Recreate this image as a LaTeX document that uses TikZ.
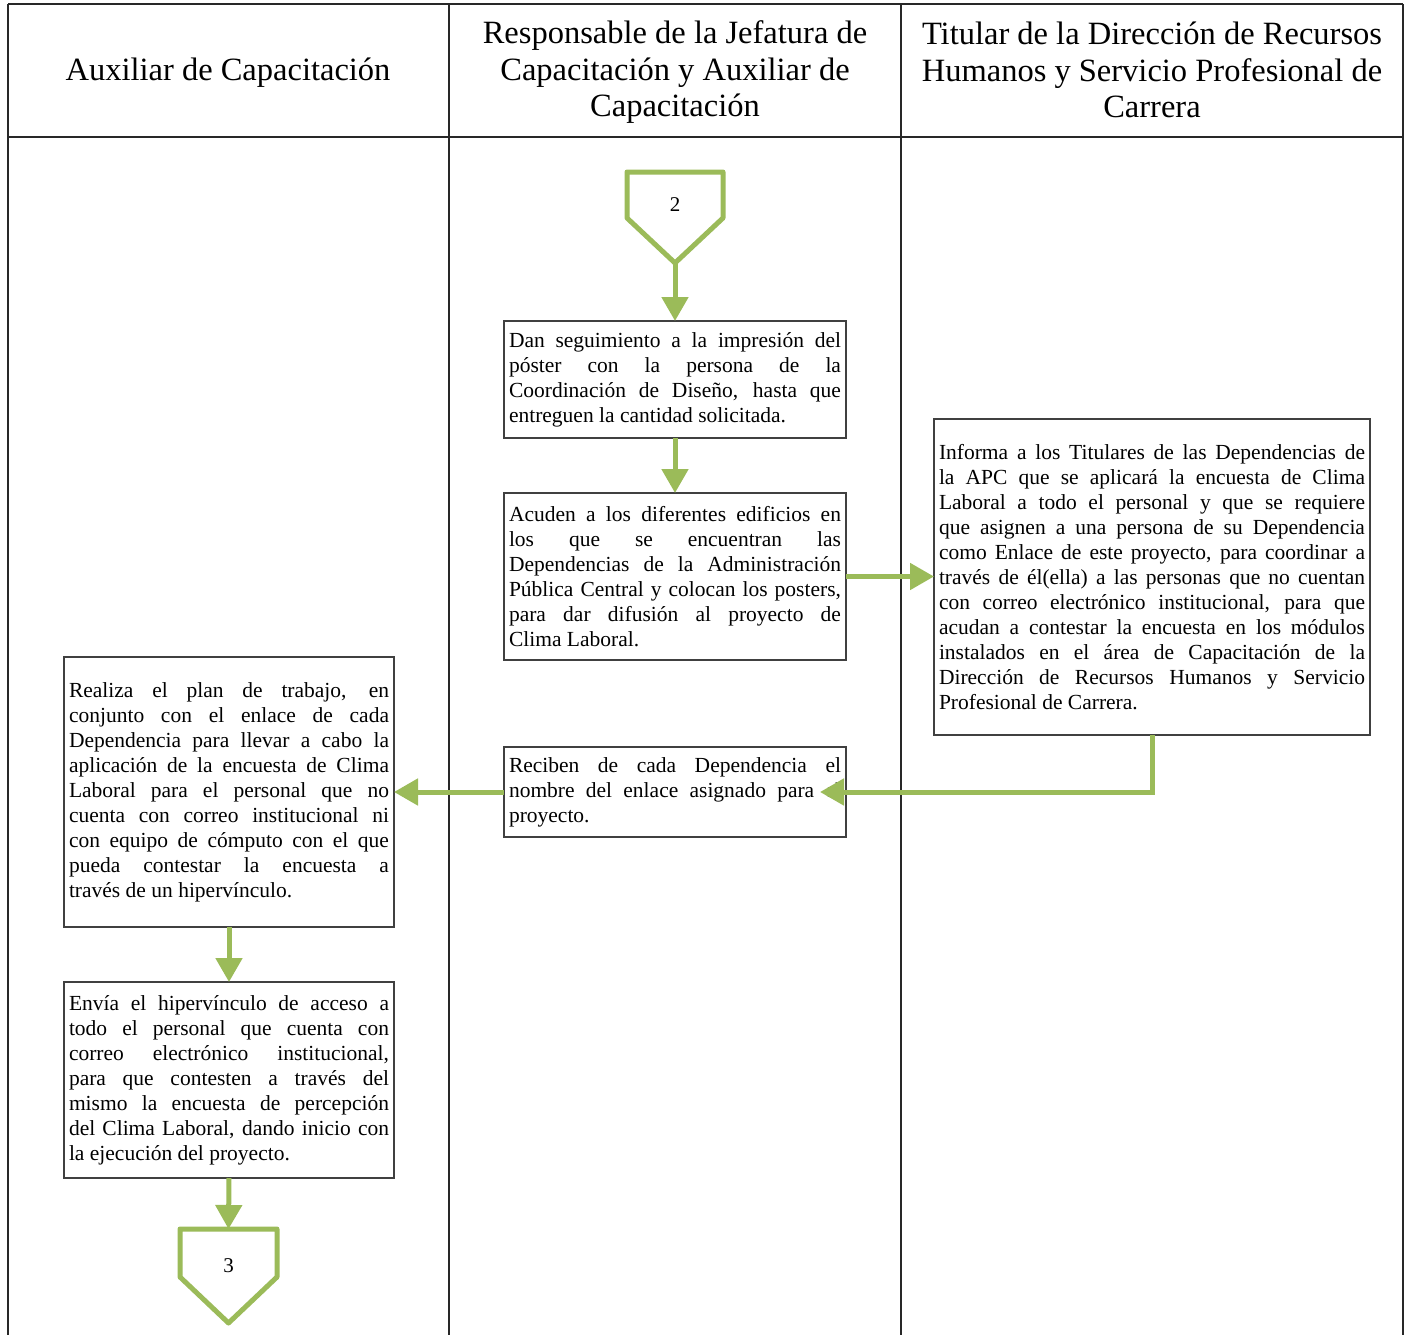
\documentclass[tikz,border=0pt]{standalone}
\usepackage{fontspec}
\setmainfont{Liberation Serif}
\usetikzlibrary{arrows.meta}
\definecolor{flowgreen}{RGB}{155,187,89}
\definecolor{rulegray}{RGB}{40,40,40}
\definecolor{boxgray}{RGB}{64,64,64}
\begin{document}
\begin{tikzpicture}[x=1pt,y=-1pt,
  rule/.style={draw=rulegray, line width=2pt},
  head/.style={align=center, font={\fontsize{32.5}{36.5}\selectfont}, inner sep=0pt},
  stepbox/.style={draw=boxgray, line width=1.8pt, fill=white, anchor=north west,
    outer sep=0pt, inner xsep=5pt, inner ysep=0pt, align=justify,
    font={\fontsize{21.5}{25}\selectfont}},
  flow/.style={draw=flowgreen, line width=5pt, -{Triangle[length=24pt,width=26pt]}},
  pageref/.style={draw=flowgreen, line width=5pt, fill=white, line join=round},
  pagenum/.style={font={\fontsize{21}{25}\selectfont}, inner sep=0pt}]
\useasboundingbox (0,0) rectangle (1408,1335);

% swimlane grid
\draw[rule] (8,4) -- (1403,4);
\draw[rule] (8,137) -- (1403,137);
\draw[rule] (8,4) -- (8,1335);
\draw[rule] (449,4) -- (449,1335);
\draw[rule] (901,4) -- (901,1335);
\draw[rule] (1403,4) -- (1403,1335);

% lane titles
\node[head] (h1) at (228,73) {Auxiliar de Capacitación};
\node[head] (h2) at (675,72.5) {Responsable de la Jefatura de\\Capacitación y Auxiliar de\\Capacitación};
\node[head] (h3) at (1152,70) {Titular de la Dirección de Recursos\\Humanos y Servicio Profesional de\\Carrera};

% off-page connector 2
\draw[pageref] (627,172) -- (723,172) -- (723,218) -- (675,263) -- (627,218) -- cycle;
\node[pagenum] (c2) at (675,205) {2};
\coordinate (c2tip) at (675,263);

% process steps
\node[stepbox, text width=332pt, minimum height=117pt] (b1) at (504,321)
  {Dan seguimiento a la impresión del\linebreak póster con la persona de la\linebreak Coordinación de Diseño, hasta que\linebreak entreguen la cantidad solicitada.};

\node[stepbox, text width=332pt, minimum height=167pt] (b2) at (504,493)
  {Acuden a los diferentes edificios en\linebreak los que se encuentran las\linebreak Dependencias de la Administración\linebreak Pública Central y colocan los posters,\linebreak para dar difusión al proyecto de\linebreak Clima Laboral.};

\node[stepbox, text width=426pt, minimum height=316pt] (b3) at (934,419)
  {Informa a los Titulares de las Dependencias de\linebreak la APC que se aplicará la encuesta de Clima\linebreak Laboral a todo el personal y que se requiere\linebreak que asignen a una persona de su Dependencia\linebreak como Enlace de este proyecto, para coordinar a\linebreak través de él(ella) a las personas que no cuentan\linebreak con correo electrónico institucional, para que\linebreak acudan a contestar la encuesta en los módulos\linebreak instalados en el área de Capacitación de la\linebreak Dirección de Recursos Humanos y Servicio\linebreak Profesional de Carrera.};

\node[stepbox, text width=332pt, minimum height=90pt] (b4) at (504,747)
  {Reciben de cada Dependencia el\linebreak nombre del enlace asignado para el\linebreak proyecto.};

\node[stepbox, text width=320pt, minimum height=270pt] (b5) at (64,657)
  {Realiza el plan de trabajo, en\linebreak conjunto con el enlace de cada\linebreak Dependencia para llevar a cabo la\linebreak aplicación de la encuesta de Clima\linebreak Laboral para el personal que no\linebreak cuenta con correo institucional ni\linebreak con equipo de cómputo con el que\linebreak pueda contestar la encuesta a\linebreak través de un hipervínculo.};

\node[stepbox, text width=320pt, minimum height=196pt] (b6) at (64,982)
  {Envía el hipervínculo de acceso a\linebreak todo el personal que cuenta con\linebreak correo electrónico institucional,\linebreak para que contesten a través del\linebreak mismo la encuesta de percepción\linebreak del Clima Laboral, dando inicio con\linebreak la ejecución del proyecto.};

% off-page connector 3
\draw[pageref] (180,1229) -- (277,1229) -- (277,1277) -- (228.5,1323) -- (180,1277) -- cycle;
\node[pagenum] (c3) at (228.5,1266) {3};
\coordinate (c3top) at (228.5,1229);

% flow arrows
\draw[flow] (c2tip) -- (b1.north);
\draw[flow] (b1.south) -- (b2.north);
\draw[flow] (b2.east) -- (b2.east -| b3.west);
\draw[flow] (b3.south) |- ([xshift=-26pt]b4.east);
\draw[flow] (b4.west) -- (b5.east);
\draw[flow] (b5.south) -- (b6.north);
\draw[flow] (b6.south) -- (c3top);
\end{tikzpicture}
\end{document}
